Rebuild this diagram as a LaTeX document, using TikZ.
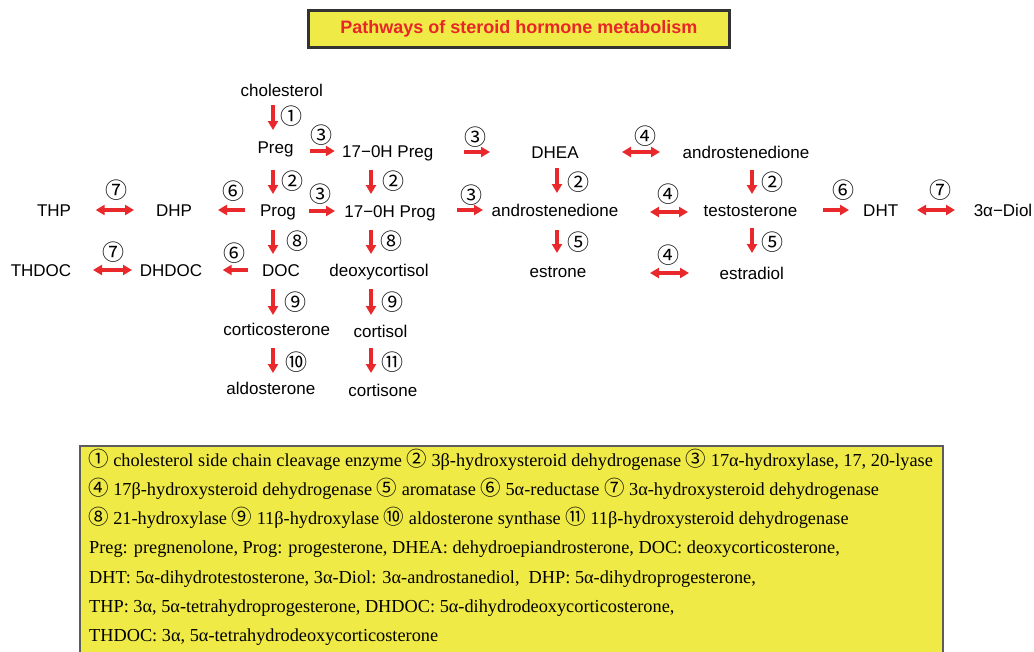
\documentclass[tikz,border=0pt]{standalone}
\usepackage{fontspec}
\setmainfont{Liberation Serif}
\newfontfamily\dsans{Liberation Sans}
\newfontfamily\cjkf{Noto Sans CJK JP}
\usetikzlibrary{arrows.meta}
\definecolor{ylw}{HTML}{F0EA46}
\definecolor{arred}{HTML}{E8282A}
\definecolor{bord}{HTML}{333333}
\definecolor{ttl}{HTML}{E8262A}
\newcommand\cn[1]{{\cjkf\fontsize{20.5}{20}\selectfont #1}}
\begin{document}
\begin{tikzpicture}[x=1pt,y=-1pt,
  mol/.style={font=\dsans\fontsize{17}{17}\selectfont, inner sep=0pt, text height=15.7pt, text depth=3.5pt},
  lab/.style={font=\cjkf\fontsize{22}{22}\selectfont, inner sep=0pt, text height=19.4pt, text depth=2.6pt},
  arr/.style={draw=arred, line width=3.2pt, -{Triangle[length=9pt,width=10pt]}},
  darr/.style={draw=arred, line width=3.2pt, {Triangle[length=9pt,width=10pt]}-{Triangle[length=9pt,width=10pt]}},
  leg/.style={font=\fontsize{18.3}{18.3}\selectfont, inner sep=0pt, anchor=base west}
]
\useasboundingbox (0,0) rectangle (1034,651);
\clip (0,0) rectangle (1034,651);
\fill[white] (0,0) rectangle (1034,651);

% title
\node[draw=bord, line width=3pt, fill=ylw, minimum width=421pt, minimum height=37pt, inner sep=0pt,
  font=\dsans\bfseries\fontsize{18}{18}\selectfont, text=ttl] (title) at (518.8,29) {Pathways of steroid hormone metabolism};

% columns
\coordinate (cA) at (273,0);
\coordinate (cB) at (371,0);
\coordinate (cC) at (557,0);
\coordinate (cD) at (752,0);

% molecules
\node[mol] (chol) at (281.7,90) {cholesterol};
\node[mol] (preg) at (275.5,147) {Preg};
\node[mol] (preg17) at (387.8,151) {17−0H Preg};
\node[mol] (dhea) at (555,152) {DHEA};
\node[mol] (andro1) at (746,152) {androstenedione};
\node[mol] (thp) at (54,210) {THP};
\node[mol] (dhp) at (174,210) {DHP};
\node[mol] (prog) at (278,210) {Prog};
\node[mol] (prog17) at (390,211) {17−0H Prog};
\node[mol] (andro2) at (555,210) {androstenedione};
\node[mol] (testo) at (750.5,210) {testosterone};
\node[mol] (dht) at (880.7,210) {DHT};
\node[mol] (diol) at (1003,210) {3α−Diol};
\node[mol] (thdoc) at (41,270) {THDOC};
\node[mol] (dhdoc) at (171,270) {DHDOC};
\node[mol] (doc) at (281,270) {DOC};
\node[mol] (deoxy) at (379,270) {deoxycortisol};
\node[mol] (estrone) at (558,271) {estrone};
\node[mol] (estradiol) at (751.7,273) {estradiol};
\node[mol] (cortico) at (276.7,329) {corticosterone};
\node[mol] (cortisol) at (380.5,331) {cortisol};
\node[mol] (aldo) at (270.8,388) {aldosterone};
\node[mol] (cortisone) at (382.8,390) {cortisone};

% vertical arrows
\draw[arr, shorten <=15pt, shorten >=17pt] (chol -| cA) -- (preg -| cA);
\draw[arr, shorten <=23pt, shorten >=16pt] (preg -| cA) -- (prog -| cA);
\draw[arr, shorten <=20pt, shorten >=16pt] (prog -| cA) -- (doc -| cA);
\draw[arr, shorten <=19pt, shorten >=14pt] (doc -| cA) -- (cortico -| cA);
\draw[arr, shorten <=19pt, shorten >=15pt] (cortico -| cA) -- (aldo -| cA);
\draw[arr, shorten <=19pt, shorten >=17pt] (preg17 -| cB) -- (prog17 -| cB);
\draw[arr, shorten <=19pt, shorten >=16pt] (prog17 -| cB) -- (deoxy -| cB);
\draw[arr, shorten <=19pt, shorten >=16pt] (deoxy -| cB) -- (cortisol -| cB);
\draw[arr, shorten <=17pt, shorten >=17pt] (cortisol -| cB) -- (cortisone -| cB);
\draw[arr, shorten <=16pt, shorten >=17pt] (dhea -| cC) -- (andro2 -| cC);
\draw[arr, shorten <=20pt, shorten >=18pt] (andro2 -| cC) -- (estrone -| cC);
\draw[arr, shorten <=18pt, shorten >=16pt] (andro1 -| cD) -- (testo -| cD);
\draw[arr, shorten <=18pt, shorten >=20pt] (testo -| cD) -- (estradiol -| cD);

% horizontal arrows
\draw[arr, shorten <=34.5pt, shorten >=53pt] (preg |- preg17) -- (preg17.center);
\draw[arr, shorten <=76pt, shorten >=65pt] (preg17 |- dhea) -- (dhea.center);
\draw[darr, shorten <=67pt, shorten >=86pt] (dhea.center) -- (andro1.center);
\draw[arr, shorten <=31pt, shorten >=55pt] (prog |- prog17) -- (prog17.center);
\draw[arr, shorten <=67pt, shorten >=72pt] (prog17 |- andro2) -- (andro2.center);
\draw[darr, shorten <=95pt, shorten >=62.5pt] ([yshift=-2pt]andro2.center) -- ([yshift=-2pt]testo.center);
\draw[arr, shorten <=72.5pt, shorten >=31.7pt] (testo |- dht) -- (dht.center);
\draw[darr, shorten <=36.3pt, shorten >=48pt] (dht.center) -- (diol.center);
\draw[arr, shorten <=33pt, shorten >=44pt] (prog.center) -- (dhp.center);
\draw[darr, shorten <=40pt, shorten >=41.7pt] (dhp.center) -- (thp.center);
\draw[arr, shorten <=33.3pt, shorten >=51.7pt] (doc.center) -- (dhdoc.center);
\draw[darr, shorten <=39pt, shorten >=52pt] (dhdoc.center) -- (thdoc.center);
\draw[darr, shorten <=92pt, shorten >=62.7pt] (estrone |- estradiol) -- (estradiol.center);

% enzyme labels
\node[lab] (l1) at (291.5,116) {①};
\node[lab] (l2) at (292,181) {②};
\node[lab] (l3) at (297,241.5) {⑧};
\node[lab] (l4) at (295.5,302.5) {⑨};
\node[lab] (l5) at (296,362) {⑩};
\node[lab] (l6) at (393,181) {②};
\node[lab] (l7) at (391.5,241.5) {⑧};
\node[lab] (l8) at (392,302.5) {⑨};
\node[lab] (l9) at (392,362) {⑪};
\node[lab] (l10) at (578,182) {②};
\node[lab] (l11) at (578,242.5) {⑤};
\node[lab] (l12) at (772,182) {②};
\node[lab] (l13) at (772.5,242.5) {⑤};
\node[lab] (l14) at (321.7,135) {③};
\node[lab] (l15) at (475,137) {③};
\node[lab] (l16) at (645,136.5) {④};
\node[lab] (l17) at (320,194) {③};
\node[lab] (l18) at (471,195.5) {③};
\node[lab] (l19) at (668,194) {④};
\node[lab] (l20) at (843.5,190.5) {⑥};
\node[lab] (l21) at (940,190.5) {⑦};
\node[lab] (l22) at (233.5,191.5) {⑥};
\node[lab] (l23) at (116.7,190.5) {⑦};
\node[lab] (l24) at (234,253) {⑥};
\node[lab] (l25) at (113,252.5) {⑦};
\node[lab] (l26) at (668,255.5) {④};

% legend box
\draw[draw=bord!80, line width=1.3pt, fill=ylw] (80,446) rectangle (943,670);
\node[leg] (g1) at (88,466) {\cn{①} cholesterol side chain cleavage enzyme \cn{②} 3β-hydroxysteroid dehydrogenase \cn{③} 17α-hydroxylase, 17, 20-lyase};
\node[leg] (g2) at (88,495.3) {\cn{④} 17β-hydroxysteroid dehydrogenase \cn{⑤} aromatase \cn{⑥} 5α-reductase \cn{⑦} 3α-hydroxysteroid dehydrogenase};
\node[leg] (g3) at (88,524.6) {\cn{⑧} 21-hydroxylase \cn{⑨} 11β-hydroxylase \cn{⑩} aldosterone synthase \cn{⑪} 11β-hydroxysteroid dehydrogenase};
\node[leg] (g4) at (89,553.9) {Preg: pregnenolone, Prog: progesterone, DHEA: dehydroepiandrosterone, DOC: deoxycorticosterone,};
\node[leg] (g5) at (89,583.2) {DHT: 5α-dihydrotestosterone, 3α-Diol: 3α-androstanediol,\ \ DHP: 5α-dihydroprogesterone,};
\node[leg] (g6) at (89,612.5) {THP: 3α, 5α-tetrahydroprogesterone, DHDOC: 5α-dihydrodeoxycorticosterone,};
\node[leg] (g7) at (89,641.8) {THDOC: 3α, 5α-tetrahydrodeoxycorticosterone};
\end{tikzpicture}
\end{document}
